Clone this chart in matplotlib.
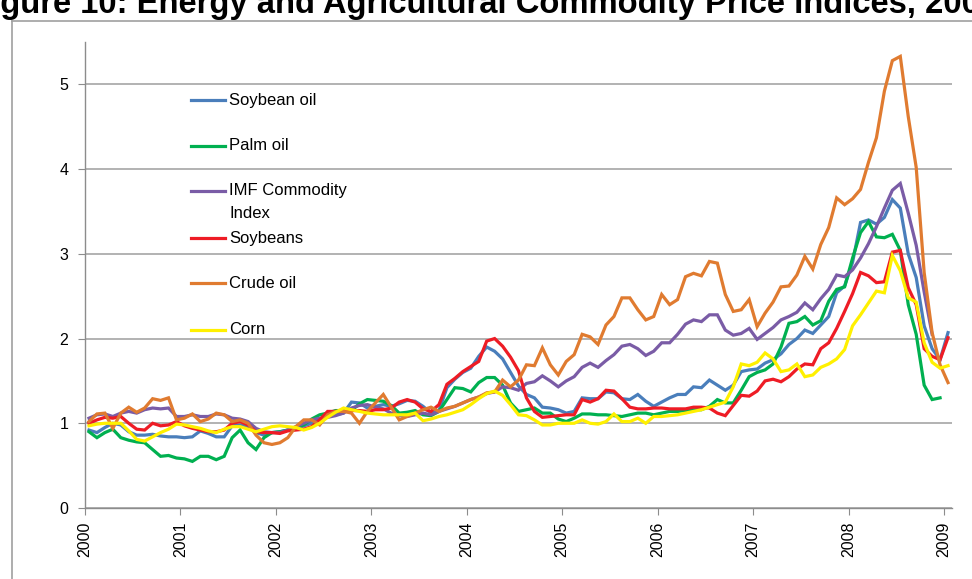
import matplotlib

matplotlib.use("Agg")
import matplotlib.pyplot as plt
from matplotlib.lines import Line2D
import numpy as np

plt.rcParams["font.family"] = ["Liberation Sans", "DejaVu Sans"]

# monthly index values, Jan 2000 .. Jan 2009 (2000 = 1)
soybean_oil = [
    0.92, 0.89, 0.95, 1.00, 0.98, 0.90, 0.86, 0.86, 0.87, 0.85, 0.84, 0.84,
    0.83, 0.84, 0.91, 0.88, 0.84, 0.84, 0.97, 0.98, 0.96, 0.89, 0.86, 0.89,
    0.90, 0.92, 0.94, 0.97, 1.00, 1.05, 1.08, 1.10, 1.12, 1.25, 1.24, 1.18,
    1.20, 1.22, 1.20, 1.23, 1.27, 1.26, 1.20, 1.12, 1.15, 1.42, 1.52, 1.60,
    1.65, 1.79, 1.90, 1.85, 1.76, 1.60, 1.44, 1.34, 1.30, 1.19, 1.18, 1.16,
    1.12, 1.14, 1.30, 1.29, 1.29, 1.37, 1.36, 1.29, 1.28, 1.34, 1.26, 1.20,
    1.25, 1.30, 1.34, 1.34, 1.43, 1.42, 1.51, 1.45, 1.39, 1.45, 1.61, 1.63,
    1.64, 1.71, 1.75, 1.82, 1.93, 2.00, 2.10, 2.06, 2.16, 2.26, 2.54, 2.62,
    2.90, 3.37, 3.40, 3.35, 3.43, 3.64, 3.54, 3.00, 2.72, 2.15, 1.88, 1.75,
    2.07,
]
palm_oil = [
    0.90, 0.83, 0.89, 0.93, 0.83, 0.80, 0.78, 0.77, 0.69, 0.61, 0.62, 0.59,
    0.58, 0.55, 0.61, 0.61, 0.57, 0.61, 0.83, 0.92, 0.77, 0.69, 0.83, 0.89,
    0.90, 0.92, 0.95, 0.98, 1.05, 1.10, 1.12, 1.15, 1.15, 1.15, 1.23, 1.28,
    1.27, 1.26, 1.21, 1.12, 1.13, 1.15, 1.10, 1.09, 1.14, 1.28, 1.42, 1.41,
    1.37, 1.48, 1.54, 1.54, 1.45, 1.24, 1.14, 1.16, 1.18, 1.12, 1.12, 1.05,
    1.02, 1.06, 1.11, 1.11, 1.10, 1.10, 1.09, 1.08, 1.10, 1.12, 1.12, 1.10,
    1.12, 1.14, 1.14, 1.15, 1.16, 1.16, 1.20, 1.28, 1.24, 1.24, 1.39, 1.55,
    1.60, 1.63, 1.70, 1.90, 2.18, 2.20, 2.26, 2.16, 2.21, 2.44, 2.58, 2.61,
    2.95, 3.25, 3.38, 3.20, 3.19, 3.23, 3.04, 2.40, 2.05, 1.45, 1.28, 1.30,
    np.nan,
]
imf_index = [
    1.06, 1.10, 1.11, 1.08, 1.12, 1.14, 1.12, 1.16, 1.18, 1.17, 1.18, 1.08,
    1.08, 1.10, 1.08, 1.08, 1.11, 1.10, 1.06, 1.05, 1.02, 0.94, 0.90, 0.89,
    0.89, 0.92, 0.96, 1.00, 1.04, 1.06, 1.07, 1.09, 1.12, 1.18, 1.21, 1.22,
    1.19, 1.17, 1.12, 1.09, 1.08, 1.10, 1.12, 1.10, 1.14, 1.17, 1.20, 1.24,
    1.28, 1.31, 1.35, 1.37, 1.43, 1.42, 1.39, 1.47, 1.49, 1.56, 1.50, 1.43,
    1.50, 1.55, 1.66, 1.71, 1.66, 1.74, 1.81, 1.91, 1.93, 1.88, 1.80, 1.85,
    1.95, 1.95, 2.05, 2.17, 2.22, 2.20, 2.28, 2.28, 2.10, 2.04, 2.06, 2.12,
    1.99, 2.06, 2.13, 2.22, 2.26, 2.31, 2.42, 2.34, 2.47, 2.58, 2.75, 2.73,
    2.81, 2.95, 3.12, 3.32, 3.54, 3.75, 3.83, 3.48, 3.10, 2.55, 2.05, np.nan,
    np.nan,
]
soybeans = [
    1.00, 1.04, 1.07, 1.06, 1.08, 1.00, 0.93, 0.92, 1.00, 0.97, 0.98, 1.02,
    0.97, 0.94, 0.92, 0.90, 0.90, 0.92, 1.00, 1.02, 0.98, 0.90, 0.89, 0.89,
    0.88, 0.91, 0.92, 0.93, 0.96, 1.04, 1.14, 1.14, 1.14, 1.15, 1.15, 1.14,
    1.16, 1.16, 1.18, 1.25, 1.28, 1.25, 1.17, 1.14, 1.22, 1.46, 1.53, 1.61,
    1.67, 1.73, 1.97, 2.00, 1.91, 1.78, 1.62, 1.30, 1.14, 1.07, 1.08, 1.09,
    1.10, 1.10, 1.28, 1.25, 1.29, 1.39, 1.38, 1.29, 1.19, 1.17, 1.17, 1.18,
    1.18, 1.17, 1.17, 1.17, 1.19, 1.19, 1.18, 1.12, 1.09, 1.21, 1.33, 1.32,
    1.38, 1.50, 1.52, 1.49, 1.55, 1.64, 1.70, 1.69, 1.88, 1.95, 2.12, 2.32,
    2.53, 2.78, 2.74, 2.66, 2.67, 3.02, 3.04, 2.60, 2.40, 1.88, 1.79, 1.75,
    2.01,
]
crude_oil = [
    1.02, 1.11, 1.12, 0.94, 1.12, 1.19, 1.13, 1.18, 1.29, 1.27, 1.30, 1.04,
    1.06, 1.11, 1.02, 1.05, 1.12, 1.10, 1.02, 1.04, 1.00, 0.86, 0.77, 0.75,
    0.77, 0.83, 0.96, 1.04, 1.04, 0.98, 1.10, 1.14, 1.14, 1.12, 1.00, 1.14,
    1.24, 1.34, 1.19, 1.04, 1.08, 1.12, 1.16, 1.19, 1.14, 1.18, 1.20, 1.24,
    1.28, 1.31, 1.36, 1.37, 1.51, 1.43, 1.51, 1.69, 1.68, 1.89, 1.69, 1.57,
    1.73, 1.81, 2.05, 2.02, 1.93, 2.16, 2.26, 2.48, 2.48, 2.34, 2.22, 2.26,
    2.52, 2.40, 2.46, 2.73, 2.77, 2.74, 2.91, 2.89, 2.52, 2.32, 2.34, 2.46,
    2.14, 2.30, 2.43, 2.61, 2.62, 2.75, 2.97, 2.82, 3.11, 3.31, 3.66, 3.58,
    3.65, 3.76, 4.08, 4.37, 4.92, 5.28, 5.33, 4.62, 4.02, 2.78, 2.07, 1.69,
    1.48,
]
corn = [
    0.97, 0.99, 1.00, 1.00, 1.00, 0.91, 0.81, 0.79, 0.84, 0.89, 0.93, 0.99,
    0.98, 0.96, 0.94, 0.91, 0.89, 0.93, 0.96, 0.96, 0.93, 0.90, 0.93, 0.96,
    0.97, 0.96, 0.95, 0.92, 0.95, 1.00, 1.07, 1.13, 1.18, 1.16, 1.14, 1.12,
    1.11, 1.10, 1.10, 1.10, 1.10, 1.12, 1.03, 1.05, 1.08, 1.10, 1.13, 1.16,
    1.22, 1.29, 1.35, 1.38, 1.33, 1.22, 1.10, 1.09, 1.04, 0.98, 0.98, 1.00,
    1.00, 1.00, 1.04, 1.00, 0.99, 1.02, 1.11, 1.02, 1.02, 1.06, 1.00, 1.08,
    1.08, 1.09, 1.10, 1.12, 1.14, 1.16, 1.19, 1.22, 1.25, 1.43, 1.70, 1.68,
    1.72, 1.83, 1.76, 1.61, 1.63, 1.70, 1.55, 1.57, 1.66, 1.70, 1.76, 1.87,
    2.15, 2.28, 2.42, 2.56, 2.54, 2.98, 2.80, 2.48, 2.43, 1.95, 1.72, 1.65,
    1.68,
]

labels = ["Soybean oil", "Palm oil", "IMF Commodity\nIndex", "Soybeans", "Crude oil", "Corn"]
colors = ["#4A7EBB", "#00B050", "#7A5CA6", "#EE1C25", "#E07B30", "#FFF000"]
series = [soybean_oil, palm_oil, imf_index, soybeans, crude_oil, corn]
years = list(range(2000, 2010))

W, H = 972, 579
fig = plt.figure(figsize=(W / 100, H / 100), dpi=100)
ax = fig.add_axes([85 / W, 1 - 508 / H, (952 - 85) / W, 466 / H])

months = 2000 + (np.arange(len(corn)) + 0.5) / 12
for vals, col, lab in zip(series, colors, labels):
    ax.plot(months, vals, color=col, lw=2.3, label=lab, solid_joinstyle="miter")

ax.set_xlim(2000, 2000 + len(corn) / 12)
ax.set_ylim(0, 5.5)
ax.set_yticks(range(0, 6))
ax.set_xticks(years)
ax.set_xticklabels([str(y) for y in years], rotation=90)
ax.grid(axis="y", color="#A6A6A6", lw=1.2)
ax.set_axisbelow(True)
for s in ["top", "right"]:
    ax.spines[s].set_visible(False)
for s in ["left", "bottom"]:
    ax.spines[s].set_color("#8C8C8C")
    ax.spines[s].set_linewidth(1.0)
ax.tick_params(axis="both", colors="#8C8C8C", labelcolor="black", labelsize=11.5, length=5)
ax.tick_params(axis="y", pad=7)
ax.tick_params(axis="x", pad=5)


def px(x, y):
    return x / W, 1 - y / H


# legend, no frame, gridlines show through
leg_y = [100, 146, 191, 238, 283, 330]
for lab, col, y in zip(labels, colors, leg_y):
    (x0, fy), (x1, _) = px(191, y), px(225, y)
    fig.add_artist(Line2D([x0, x1], [fy, fy], color=col, lw=2.3, transform=fig.transFigure))
    for k, line in enumerate(lab.split("\n")):
        tx, ty = px(229, y + 22 * k)
        fig.text(tx, ty, line, fontsize=12, va="center", ha="left")

# outer frame of the page figure, cut off at right and bottom
fx, fy = px(12, 21)
fig.add_artist(Line2D([fx, fx], [0, fy], color="#A0A0A0", lw=1.2, transform=fig.transFigure))
fig.add_artist(Line2D([fx, 1], [fy, fy], color="#A0A0A0", lw=1.2, transform=fig.transFigure))

# page title, cut off by the top and left edges as in the source scan
tx, ty = px(-29, 13)
fig.text(tx, ty, "Figure 10: Energy and Agricultural Commodity Price Indices, 2000-2009",
         fontsize=23.6, fontweight="bold", va="baseline", ha="left")

fig.savefig("out.png", dpi=100)
